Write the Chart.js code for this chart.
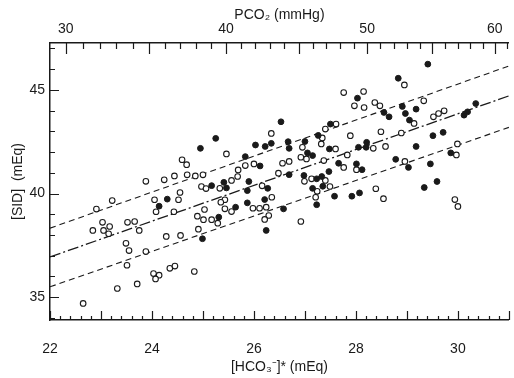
<!DOCTYPE html>
<html><head><meta charset="utf-8">
<style>html,body{margin:0;padding:0;background:#fff}#wrap{width:514px;height:378px}</style>
<script src="https://cdn.jsdelivr.net/npm/chart.js@4.4.0/dist/chart.umd.min.js"></script>
</head><body><div id="wrap"><canvas id="c" width="514" height="378"></canvas></div>
<script>
// open circles
const openX = [24.59,24.68,23.88,24.24,24.44,24.69,24.85,25.00,24.97,25.06,23.22,22.91,24.05,24.55,24.52,24.08,24.43,25.03,24.89,25.01,
23.03,23.17,22.84,23.05,23.15,23.52,23.66,23.75,24.91,24.28,24.56,23.49,23.55,23.88,23.51,24.03,24.14,24.07,24.35,24.45,
24.83,23.32,23.71,22.65,26.34,25.46,26.95,26.92,27.03,27.34,27.32,27.40,27.61,27.60,27.37,27.76,26.56,26.69,26.00,25.83,
25.69,25.68,25.56,25.33,26.48,26.16,26.35,26.99,27.13,27.40,27.49,27.24,27.21,25.43,25.35,25.43,25.56,25.98,26.11,26.24,
26.29,26.21,25.17,25.29,26.92,28.95,27.76,28.15,27.97,28.16,28.37,28.47,29.33,29.14,29.52,29.62,29.73,28.49,28.89,27.89,
28.58,28.34,27.83,28.01,28.96,29.99,29.97,28.39,28.54,29.94,30.00];
const openY = [41.63,41.39,40.59,40.66,40.85,40.90,40.85,40.90,40.34,40.24,39.66,39.25,39.70,40.05,39.70,39.12,39.12,39.23,38.91,38.74,
38.61,38.41,38.22,38.22,38.06,38.61,38.65,38.22,38.28,37.93,37.98,37.60,37.25,37.20,36.54,36.14,36.06,35.88,36.39,36.50,
36.24,35.42,35.64,34.70,42.90,41.91,42.23,41.75,41.67,42.68,42.39,43.11,43.35,42.15,41.59,41.26,41.46,41.55,41.43,41.35,
41.14,40.82,40.63,40.25,40.98,40.37,39.82,40.59,40.71,40.63,40.34,40.11,39.82,39.70,39.58,39.26,39.13,39.29,39.29,39.34,
38.94,38.75,38.74,38.57,38.65,45.24,44.87,44.92,44.23,44.15,44.39,44.23,44.47,43.38,43.70,43.86,43.99,42.98,42.92,42.79,
42.27,42.18,41.86,41.15,41.55,42.39,41.86,40.23,39.75,39.71,39.38];
// filled circles
const filledX = [24.30,24.14,24.99,26.53,25.25,24.95,26.03,26.22,26.34,26.67,26.69,27.00,27.26,27.50,27.48,27.05,27.15,25.83,26.12,25.41,
25.46,25.17,25.90,25.87,26.27,26.69,26.98,27.15,27.23,27.33,27.35,27.66,27.47,27.58,27.23,26.21,25.87,25.64,26.58,25.31,
26.24,29.41,28.83,28.03,28.91,29.18,28.55,28.65,28.97,29.05,30.35,30.19,30.12,28.21,28.05,28.20,28.01,28.12,28.78,29.03,
29.18,29.51,29.71,29.46,29.86,27.92,28.07,29.59,29.34];
const filledY = [39.73,39.39,37.82,43.46,42.66,42.18,42.34,42.27,42.42,42.50,42.18,42.51,42.80,43.35,42.15,41.96,41.83,41.78,41.33,40.54,
40.27,40.38,40.58,40.14,40.25,40.91,40.87,40.25,40.71,40.82,40.35,41.46,41.06,39.87,39.46,39.71,39.55,39.34,39.26,38.86,
38.22,46.24,45.56,44.60,44.20,44.07,43.91,43.70,43.86,43.54,44.34,43.94,43.78,42.47,42.23,42.23,41.43,41.15,41.65,41.26,
42.27,42.79,42.95,41.43,41.96,39.87,40.03,40.58,40.29];
// regression line and band
const lineX = [22, 31];
const upperY = [38.33, 46.15];
const meanY = [36.94, 44.71];
const lowerY = [35.50, 43.19];
// tick labels
const xTickLabels = [22, 24, 26, 28, 30];
const yTickLabels = [35, 40, 45];
const pco2TickLabels = [30, 40, 50, 60];
const pco2MinorRange = [30, 61];
// top-axis relation (PCO2 -> equivalent HCO3 position)
function pco2ToHco3(p) { return 1.993 + 3.709 * Math.sqrt(p); }

const pts = (xs, ys) => xs.map((v, i) => ({x: v, y: ys[i]}));
const FONT = {family: "'Liberation Sans', Arial, sans-serif", size: 14};
const INK = '#1a1a1a';

const tickPlugin = {
  id: 'inTicks',
  afterDraw(chart) {
    const ctx = chart.ctx, a = chart.chartArea, sx = chart.scales.x, sy = chart.scales.y, st = chart.scales.x2;
    ctx.save();
    ctx.strokeStyle = INK; ctx.lineWidth = 1.2; ctx.beginPath();
    for (let i = 0; i <= 45; i++) {
      const px = Math.round(sx.getPixelForValue(22 + i * 0.2)) + 0.5;
      const len = (i % 5 === 0) ? 9 : 4;
      ctx.moveTo(px, a.bottom); ctx.lineTo(px, a.bottom - len);
    }
    for (let v = 34; v <= 47; v++) {
      const py = Math.round(sy.getPixelForValue(v)) + 0.5;
      const len = (v % 5 === 0) ? 9 : 5;
      ctx.moveTo(a.left, py); ctx.lineTo(a.left + len, py);
    }
    for (let p = pco2MinorRange[0]; p <= pco2MinorRange[1]; p++) {
      const px = Math.round(st.getPixelForValue(pco2ToHco3(p))) + 0.5;
      const len = (p % 5 === 0) ? 11 : 6;
      ctx.moveTo(px, a.top); ctx.lineTo(px, a.top + len);
    }
    ctx.stroke(); ctx.restore();
  }
};

new Chart(document.getElementById('c'), {
  type: 'scatter',
  data: {
    datasets: [
      {data: pts(openX, openY), pointStyle: 'circle', pointRadius: 2.8, pointBorderWidth: 1.1,
       pointBackgroundColor: '#fff', pointBorderColor: INK, order: 1},
      {data: pts(filledX, filledY), pointStyle: 'circle', pointRadius: 2.9, pointBorderWidth: 1,
       pointBackgroundColor: INK, pointBorderColor: INK, order: 0},
      {data: pts(lineX, upperY), showLine: true, pointRadius: 0, borderColor: INK, borderWidth: 1.1, borderDash: [6, 4], order: 3},
      {data: pts(lineX, meanY), showLine: true, pointRadius: 0, borderColor: INK, borderWidth: 1.3, borderDash: [11, 3, 2, 3], order: 3},
      {data: pts(lineX, lowerY), showLine: true, pointRadius: 0, borderColor: INK, borderWidth: 1.1, borderDash: [6, 4], order: 3}
    ]
  },
  options: {
    responsive: false, animation: false, devicePixelRatio: 1,
    layout: {padding: 0},
    plugins: {legend: {display: false}, tooltip: {enabled: false}},
    scales: {
      x: {
        type: 'linear', position: 'bottom', min: 22, max: 31,
        afterBuildTicks: s => { s.ticks = xTickLabels.map(v => ({value: v})); },
        afterFit: s => { s.height = 58; },
        grid: {display: false, drawTicks: false},
        border: {display: true, color: INK, width: 1.5},
        ticks: {font: FONT, color: INK, padding: 21, autoSkip: false, maxRotation: 0, callback: v => String(v)},
        title: {display: true, text: '[HCO\u2083\u207B]* (mEq)', font: FONT, color: INK, padding: {top: 0, bottom: 2}}
      },
      x2: {
        type: 'linear', position: 'top', axis: 'x', min: 22, max: 31,
        afterBuildTicks: s => { s.ticks = pco2TickLabels.map(p => ({value: pco2ToHco3(p)})); },
        afterFit: s => { s.height = 43; },
        grid: {display: false, drawTicks: false},
        border: {display: true, color: INK, width: 1.5},
        ticks: {font: FONT, color: INK, padding: 5, autoSkip: false, maxRotation: 0,
                callback: (v, i) => String(pco2TickLabels[i])},
        title: {display: true, text: 'PCO\u2082 (mmHg)', font: FONT, color: INK, padding: {top: 7, bottom: 0}}
      },
      y: {
        type: 'linear', position: 'left', min: 33.9, max: 47.26,
        afterBuildTicks: s => { s.ticks = yTickLabels.map(v => ({value: v})); },
        afterFit: s => { s.width = 50; },
        grid: {display: false, drawTicks: false},
        border: {display: true, color: INK, width: 1.5},
        ticks: {font: FONT, color: INK, padding: 5, autoSkip: false, callback: v => String(v)},
        title: {display: true, text: '[SID]  (mEq)', font: FONT, color: INK, padding: {top: 10, bottom: 0}}
      }
    }
  },
  plugins: [tickPlugin]
});
</script></body></html>
